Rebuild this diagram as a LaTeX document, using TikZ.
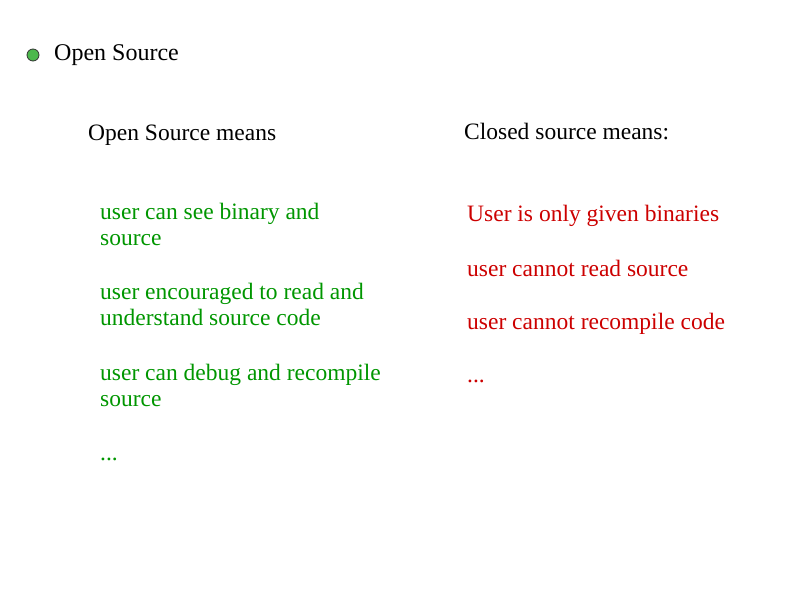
\documentclass[tikz,border=0pt]{standalone}
\usepackage{fontspec}
\setmainfont{Liberation Serif}
\definecolor{osgreen}{RGB}{0,150,0}
\definecolor{csred}{RGB}{204,0,0}
\begin{document}
\begin{tikzpicture}[x=1pt,y=-1pt,
  txt/.style={anchor=base west,inner sep=0pt,font=\fontsize{23.5}{26}\selectfont},
  gtxt/.style={txt,text=osgreen,align=left},
  rtxt/.style={txt,text=csred}]
\useasboundingbox (0,0) rectangle (794,595);
\node[circle,draw=black!80,line width=0.8pt,fill=green!60!black!70!white,minimum size=12pt,inner sep=0pt] (bul) at (33,55) {};
\node[txt,font=\fontsize{24}{26}\selectfont] (title) at (54,60) {Open Source};
\node[txt] (osm) at (88,140) {Open Source means};
\node[txt] (csm) at (464,139) {Closed source means:};
\node[gtxt] (g1) at (100,245) {user can see binary and\\source};
\node[gtxt] (g2) at (100,325) {user encouraged to read and\\understand source code};
\node[gtxt] (g3) at (100,406) {user can debug and recompile\\source};
\node[gtxt] (g4) at (100,460) {...};
\node[rtxt] (r1) at (467,221) {User is only given binaries};
\node[rtxt] (r2) at (467,276) {user cannot read source};
\node[rtxt] (r3) at (467,329) {user cannot recompile code};
\node[rtxt] (r4) at (467,382) {...};
\end{tikzpicture}
\end{document}
